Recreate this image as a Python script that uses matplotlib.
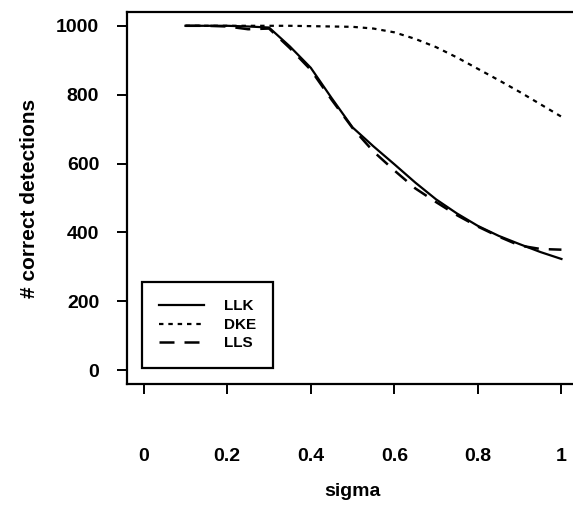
import numpy as np
import matplotlib.pyplot as plt

plt.rcParams['font.family'] = ['Liberation Sans', 'DejaVu Sans']

sigma = [0.1, 0.15, 0.2, 0.25, 0.3, 0.35, 0.4, 0.45, 0.5, 0.55, 0.6, 0.65, 0.7, 0.75, 0.8, 0.85, 0.9, 0.95, 1.0]
llk = [1000, 1000, 1000, 998, 995, 940, 878, 790, 705, 650, 598, 545, 496, 455, 419, 390, 366, 343, 323]
dke = [1000, 1000, 1000, 1000, 1000, 1000, 999, 998, 997, 992, 981, 962, 938, 908, 875, 842, 808, 772, 736]
lls = [1000, 1000, 998, 990, 992, 935, 872, 785, 703, 635, 580, 528, 488, 450, 417, 388, 362, 352, 350]

xticks = [0, 0.2, 0.4, 0.6, 0.8, 1]
xticklabels = ['0', '0.2', '0.4', '0.6', '0.8', '1']
yticks = [0, 200, 400, 600, 800, 1000]

fig = plt.figure(figsize=(5.73, 5.05), dpi=100)
ax = fig.add_axes([0.2216, 0.2396, 0.7874, 0.7366])

ax.plot(sigma, llk, color='black', lw=1.6, linestyle='-', label='LLK')
ax.plot(sigma, dke, color='black', lw=1.6, linestyle=(0, (2, 2.2)), label='DKE')
ax.plot(sigma, lls, color='black', lw=1.8, linestyle=(0, (6, 4)), label='LLS')

ax.set_xlim(-0.04, 1.04)
ax.set_ylim(-40, 1040)

ax.set_xticks(xticks)
ax.set_xticklabels(xticklabels)
ax.set_yticks(yticks)
for s in ax.spines.values():
    s.set_linewidth(1.6)
ax.tick_params(axis='both', direction='out', length=7, width=1.4, labelsize=14)
ax.tick_params(axis='x', pad=39)
ax.tick_params(axis='y', pad=13)
for t in ax.get_xticklabels() + ax.get_yticklabels():
    t.set_fontweight('bold')

ax.set_xlabel('sigma', fontsize=14, fontweight='bold', labelpad=13)
ax.set_ylabel('# correct detections', fontsize=15, fontweight='bold', labelpad=12)

leg = ax.legend(loc='lower left', bbox_to_anchor=(0.033, 0.043), fancybox=False,
                edgecolor='black', framealpha=1, prop={'size': 11, 'weight': 'bold'},
                handlelength=2.9, borderpad=1.15, labelspacing=0.3, handletextpad=1.3,
                borderaxespad=0)
leg.get_frame().set_linewidth(1.6)

fig.savefig('out.png', dpi=100)
